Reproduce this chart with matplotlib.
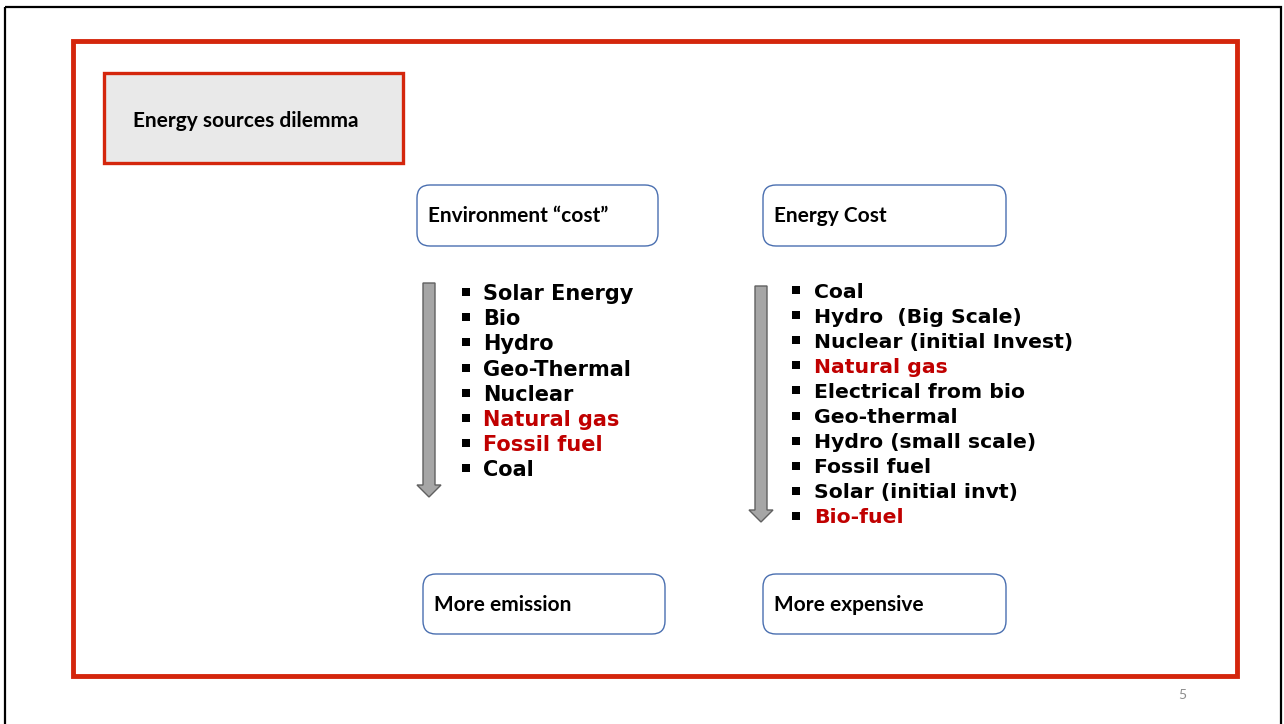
import matplotlib
matplotlib.use("Agg")
import matplotlib.pyplot as plt
from matplotlib.patches import Rectangle, FancyBboxPatch, FancyArrow

# ---- content ----
title = "Energy sources dilemma"
left_header = "Environment \u201ccost\u201d"
right_header = "Energy Cost"
left_footer = "More emission"
right_footer = "More expensive"
left_items = ["Solar Energy", "Bio", "Hydro", "Geo-Thermal", "Nuclear",
              "Natural gas", "Fossil fuel", "Coal"]
left_highlight = [False, False, False, False, False, True, True, False]
right_items = ["Coal", "Hydro  (Big Scale)", "Nuclear (initial Invest)", "Natural gas",
               "Electrical from bio", "Geo-thermal", "Hydro (small scale)",
               "Fossil fuel", "Solar (initial invt)", "Bio-fuel"]
right_highlight = [False, False, False, True, False, False, False, False, False, True]
page_number = "5"

RED = "#d4260c"
DARKRED = "#c00000"
BLUE = "#4a6fb0"
BOXFONT = "Lato"
LISTFONT = "DejaVu Sans"

W, H = 1284, 724
fig = plt.figure(figsize=(W / 100, H / 100), dpi=100)
ax = fig.add_axes([0, 0, 1, 1])
ax.set_xlim(0, W)
ax.set_ylim(H, 0)
ax.axis("off")

# outer slide border
ax.add_patch(Rectangle((5, 7), 1276, 730, fill=False, ec="black", lw=1.6))
# red frame
ax.add_patch(Rectangle((73, 41), 1164, 635, fill=False, ec=RED, lw=3.5))
# title box
ax.add_patch(Rectangle((104, 73), 299, 90, fc="#e9e9e9", ec=RED, lw=2.4))
ax.text(133, 121, title, fontfamily=BOXFONT, fontweight="bold", fontsize=15,
        va="center", ha="left", color="black")

def rbox(x, y, w, h, label):
    ax.add_patch(FancyBboxPatch((x, y), w, h,
                                boxstyle="round,pad=0,rounding_size=13",
                                fc="white", ec=BLUE, lw=1.0))
    ax.text(x + 11, y + h / 2 + 1, label, fontfamily=BOXFONT, fontweight="bold",
            fontsize=15, va="center", ha="left", color="black")

rbox(417, 185, 241, 61, left_header)
rbox(763, 185, 243, 61, right_header)
rbox(423, 574, 242, 60, left_footer)
rbox(763, 574, 243, 60, right_footer)

# arrows
for x, y0, y1 in [(429, 283, 497), (761, 286, 522)]:
    ax.add_patch(FancyArrow(x, y0, 0, y1 - y0, width=12, head_width=24,
                            head_length=12, length_includes_head=True,
                            fc="#a6a6a6", ec="#606060", lw=1.0))

def bullet_list(items, highlight, xb, xt, y0, dy, fs):
    for i, (t, hl) in enumerate(zip(items, highlight)):
        y = y0 + i * dy
        ax.plot([xb], [y], marker="s", ms=6.3, color="black", mew=0)
        ax.text(xt, y, t, fontfamily=LISTFONT, fontweight="bold",
                fontsize=fs, va="center_baseline", ha="left",
                color=DARKRED if hl else "black")

bullet_list(left_items, left_highlight, 466, 483, 292, 25.2, 15)
bullet_list(right_items, right_highlight, 796, 814, 290, 25.1, 14.7)

ax.text(1182, 695, page_number, fontfamily="Lato", fontsize=10, color="#8c8c8c",
        ha="center", va="center")

fig.savefig("out.png", dpi=100)
